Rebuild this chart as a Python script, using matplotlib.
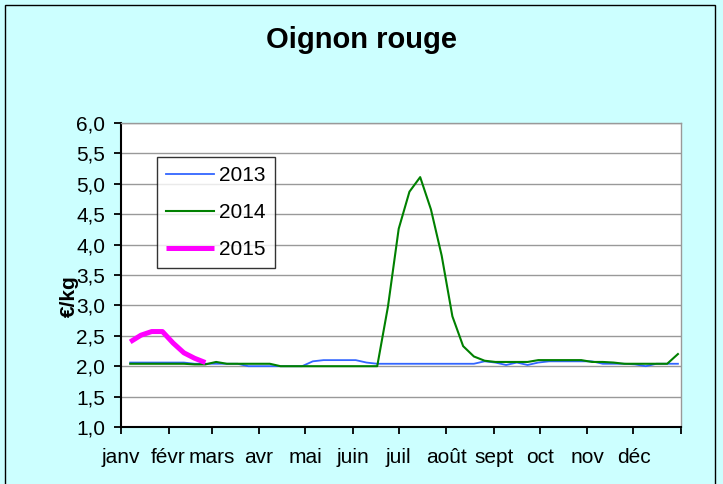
import numpy as np
import pandas as pd
import matplotlib
matplotlib.use("Agg")
import matplotlib.pyplot as plt
from matplotlib.patches import Rectangle

plt.rcParams['font.family'] = ['Liberation Sans', 'DejaVu Sans']

# une valeur par semaine (52 semaines)
semaines = pd.date_range('2014-01-07', periods=52, freq='7D')

prix_2013 = [2.06, 2.06, 2.06, 2.06, 2.06, 2.06, 2.04, 2.04, 2.04, 2.04,
             2.04, 2.00, 2.00, 2.00, 2.00, 2.00, 2.00, 2.08, 2.10, 2.10,
             2.10, 2.10, 2.06, 2.04, 2.04, 2.04, 2.04, 2.04, 2.04, 2.04,
             2.04, 2.04, 2.04, 2.08, 2.06, 2.02, 2.06, 2.02, 2.06, 2.08,
             2.08, 2.08, 2.08, 2.08, 2.04, 2.04, 2.04, 2.03, 2.00, 2.04,
             2.04, 2.04]
prix_2014 = [2.04, 2.04, 2.04, 2.04, 2.04, 2.04, 2.03, 2.03, 2.07, 2.04,
             2.04, 2.04, 2.04, 2.04, 2.00, 2.00, 2.00, 2.00, 2.00, 2.00,
             2.00, 2.00, 2.00, 2.00, 2.98, 4.26, 4.87, 5.11, 4.58, 3.82,
             2.82, 2.33, 2.16, 2.09, 2.07, 2.07, 2.07, 2.07, 2.10, 2.10,
             2.10, 2.10, 2.10, 2.07, 2.07, 2.06, 2.04, 2.04, 2.04, 2.04,
             2.04, 2.20]
prix_2015 = [2.40, 2.51, 2.57, 2.57, 2.38, 2.22, 2.13, 2.06]

mois = ['janv', 'févr', 'mars', 'avr', 'mai', 'juin', 'juil', 'août',
        'sept', 'oct', 'nov', 'déc']

fig = plt.figure(figsize=(7.23, 4.84), dpi=100, facecolor='#CCFFFF')
fig.patches.append(Rectangle((5 / 723, -0.1), 710 / 723, 1.1 - 5 / 484,
                             transform=fig.transFigure, fill=False,
                             edgecolor='black', lw=1))

ax = fig.add_axes([121 / 723, 1 - 427 / 484, 560 / 723, 304 / 484])
ax.set_facecolor('white')

ax.plot(semaines, prix_2013, color='#3366FF', lw=1.3, label='2013', zorder=3)
ax.plot(semaines, prix_2014, color='#008000', lw=1.5, label='2014', zorder=4)
ax.plot(semaines[:len(prix_2015)], prix_2015, color='#FF00FF', lw=3.6,
        label='2015', zorder=5, solid_capstyle='butt')

ax.set_ylim(1.0, 6.0)
ax.set_yticks(np.arange(1.0, 6.01, 0.5))
ax.set_yticklabels([f'{v:.1f}'.replace('.', ',') for v in np.arange(1.0, 6.01, 0.5)])
ax.grid(axis='y', color='#999999', lw=1)
ax.set_axisbelow(True)

ax.set_xlim(pd.Timestamp('2014-01-01'), pd.Timestamp('2015-01-01'))
debuts = pd.date_range('2014-01-01', '2015-01-01', freq='MS')
ax.set_xticks(debuts)
ax.set_xticklabels(mois + [''])

ax.tick_params(axis='both', labelsize=15, direction='out', length=5,
               width=1.3, color='black')
ax.tick_params(axis='y', pad=6.5)
ax.tick_params(axis='x', pad=10)
for s in ['left', 'bottom']:
    ax.spines[s].set_color('black')
    ax.spines[s].set_linewidth(1.5)
for s in ['top', 'right']:
    ax.spines[s].set_color('#999999')
    ax.spines[s].set_linewidth(1)

ax.set_ylabel('€/kg', fontsize=15, fontweight='bold')
ax.yaxis.set_label_coords(-0.075, 0.431)

fig.text(0.5, 1 - 40 / 484, 'Oignon rouge', ha='center', va='center',
         fontsize=21, fontweight='bold')

leg = ax.legend(loc='upper left', bbox_to_anchor=(0.064, 0.888),
                borderaxespad=0, fontsize=15, frameon=True, fancybox=False,
                edgecolor='black', handlelength=2.3, handletextpad=0.25,
                labelspacing=0.85, borderpad=0.45)
leg.get_frame().set_linewidth(1)

fig.savefig('out.png', dpi=100, facecolor=fig.get_facecolor())
